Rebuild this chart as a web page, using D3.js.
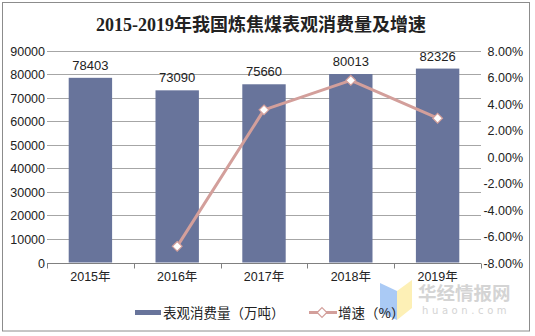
<!DOCTYPE html>
<html>
<head>
<meta charset="utf-8">
<script src="https://cdn.jsdelivr.net/npm/d3@7/dist/d3.min.js"></script>
<style>
  html, body { margin: 0; padding: 0; background: #fff; }
  svg { display: block; }
  text { font-family: "Liberation Sans", Arial, "Noto Sans CJK SC", sans-serif; fill: #222; }
</style>
</head>
<body>
<svg id="chart" width="535" height="336"></svg>
<script>
// Apparent consumption of coking coal, 2015-2019
const years = ["2015年", "2016年", "2017年", "2018年", "2019年"];
const consumption = [78403, 73090, 75660, 80013, 82326];   // 万吨
const growth = [null, -6.78, 3.52, 5.75, 2.89];            // %
const leftTicks = [0, 10000, 20000, 30000, 40000, 50000, 60000, 70000, 80000, 90000];
const rightTicks = [-8, -6, -4, -2, 0, 2, 4, 6, 8];

const titleText = "2015-2019年我国炼焦煤表观消费量及增速";
const legendBar = "表观消费量（万吨）";
const legendLine = "增速（%）";

const W = 535, H = 336;
const plot = { left: 47, right: 481, top: 50.5, bottom: 262.5 };

const barColor = "#68749b";
const lineColor = "#d39f9b";
const gridColor = "#a6a6a6";

const svg = d3.select("#chart");

// outer frame
svg.append("rect")
  .attr("x", 2.5).attr("y", 2.5)
  .attr("width", 527).attr("height", 328.5)
  .attr("fill", "#fff").attr("stroke", "#8c8c8c").attr("stroke-width", 1);

// title
svg.append("text")
  .attr("x", 261).attr("y", 31)
  .attr("text-anchor", "middle")
  .style("font-family", "'Liberation Serif', 'Noto Sans CJK SC', serif")
  .style("font-weight", "bold")
  .style("font-size", "18px")
  .text(titleText);

const x = d3.scaleBand().domain(years).range([plot.left, plot.right]).paddingInner(0.5).paddingOuter(0.25);
const xOuter = d3.scaleBand().domain(years).range([plot.left, plot.right]);
const yL = d3.scaleLinear().domain([0, 90000]).range([plot.bottom, plot.top]);
const yR = d3.scaleLinear().domain([-8, 8]).range([plot.bottom, plot.top]);

// gridlines
svg.append("g").selectAll("line").data(leftTicks.filter(d => d > 0)).join("line")
  .attr("x1", plot.left).attr("x2", plot.right)
  .attr("y1", d => Math.round(yL(d)) + 0.5).attr("y2", d => Math.round(yL(d)) + 0.5)
  .attr("stroke", gridColor).attr("stroke-width", 1);

// left axis labels
const leftAxis = d3.axisLeft(yL).tickValues(leftTicks).tickSize(0).tickPadding(0).tickFormat(d3.format("d"));
const gl = svg.append("g").attr("transform", `translate(${45},0)`).call(leftAxis);
gl.select(".domain").remove();
gl.selectAll("text").style("font-size", "12.5px").style("font-family", "'Liberation Sans', Arial, sans-serif").style("fill", "#222").attr("dy", "0.36em");

// right axis labels
const rightAxis = d3.axisRight(yR).tickValues(rightTicks).tickSize(0).tickPadding(0).tickFormat(d => d.toFixed(2) + "%");
const gr = svg.append("g").attr("transform", `translate(${523},0)`).call(rightAxis);
gr.select(".domain").remove();
gr.selectAll("text").attr("text-anchor", "end").style("font-size", "12.5px").style("font-family", "'Liberation Sans', Arial, sans-serif").style("fill", "#222").attr("dy", "0.36em");

// bars
svg.append("g").selectAll("rect").data(consumption).join("rect")
  .attr("x", (d, i) => x(years[i]))
  .attr("width", x.bandwidth())
  .attr("y", d => yL(d))
  .attr("height", d => yL(0) - yL(d))
  .attr("fill", barColor);

// value labels
svg.append("g").selectAll("text").data(consumption).join("text")
  .attr("x", (d, i) => x(years[i]) + x.bandwidth() / 2)
  .attr("y", d => yL(d) - 8)
  .attr("text-anchor", "middle")
  .style("font-size", "13px")
  .text(d => d);

// watermark (sits beneath the axis text)
const wm = svg.append("g");
wm.append("path").attr("d", "M380,283 L397,291 L397,320 L380,312 Z").attr("fill", "#aacaf5");
wm.append("path").attr("d", "M397,291 L412,280 L412,308 L397,320 Z").attr("fill", "#fdf0b6");
wm.append("text").attr("x", 418).attr("y", 300)
  .style("font-family", "'Noto Sans CJK SC', sans-serif").style("font-weight", "bold").style("font-size", "18.5px")
  .style("fill", "#d4d4d4").text("华经情报网");
wm.append("text").attr("x", 422).attr("y", 314)
  .style("font-family", "'DejaVu Sans', sans-serif").style("font-size", "10px").style("letter-spacing", "3.6px")
  .style("fill", "#d4d4d4").text("huaon.com");

// x axis
const xAxis = d3.axisBottom(xOuter).tickSize(0).tickPadding(9);
const gx = svg.append("g").attr("transform", `translate(0,${Math.round(plot.bottom) + 0.5})`).call(xAxis);
gx.select(".domain").attr("stroke", "#808080").attr("d", `M${plot.left},0H${plot.right}`);
gx.selectAll("text").style("font-size", "12.5px").style("font-family", "'Liberation Sans', Arial, 'Noto Sans CJK SC', sans-serif").style("fill", "#222");
const bounds = years.map(y => xOuter(y)).concat([plot.right]);
gx.append("g").selectAll("line").data(bounds).join("line")
  .attr("x1", d => Math.round(d) + 0.5).attr("x2", d => Math.round(d) + 0.5)
  .attr("y1", 0).attr("y2", 5)
  .attr("stroke", "#808080");

// growth line
const pts = growth.map((g, i) => ({ g, year: years[i] })).filter(d => d.g !== null);
const line = d3.line().x(d => x(d.year) + x.bandwidth() / 2).y(d => yR(d.g));
svg.append("path").datum(pts)
  .attr("d", line)
  .attr("fill", "none").attr("stroke", lineColor).attr("stroke-width", 3).attr("stroke-linejoin", "round");

const diamond = d3.symbol().type(d3.symbolDiamond2).size(60);
svg.append("g").selectAll("path").data(pts).join("path")
  .attr("transform", d => `translate(${x(d.year) + x.bandwidth() / 2},${yR(d.g)})`)
  .attr("d", diamond)
  .attr("fill", "#fff").attr("stroke", lineColor).attr("stroke-width", 1.2);

// legend
const lg = svg.append("g");
lg.append("rect").attr("x", 135).attr("y", 310).attr("width", 26).attr("height", 5).attr("fill", barColor);
lg.append("text").attr("x", 163).attr("y", 317.5).style("font-size", "13.5px")
  .style("font-family", "'Noto Sans CJK SC', sans-serif").text(legendBar);
lg.append("line").attr("x1", 309).attr("x2", 337).attr("y1", 312.5).attr("y2", 312.5)
  .attr("stroke", lineColor).attr("stroke-width", 3);
lg.append("path").attr("transform", "translate(322,312.5)").attr("d", diamond)
  .attr("fill", "#fff").attr("stroke", lineColor).attr("stroke-width", 1.2);
lg.append("text").attr("x", 338).attr("y", 317.5).style("font-size", "13.5px")
  .style("font-family", "'Noto Sans CJK SC', sans-serif").text(legendLine);
</script>
</body>
</html>
